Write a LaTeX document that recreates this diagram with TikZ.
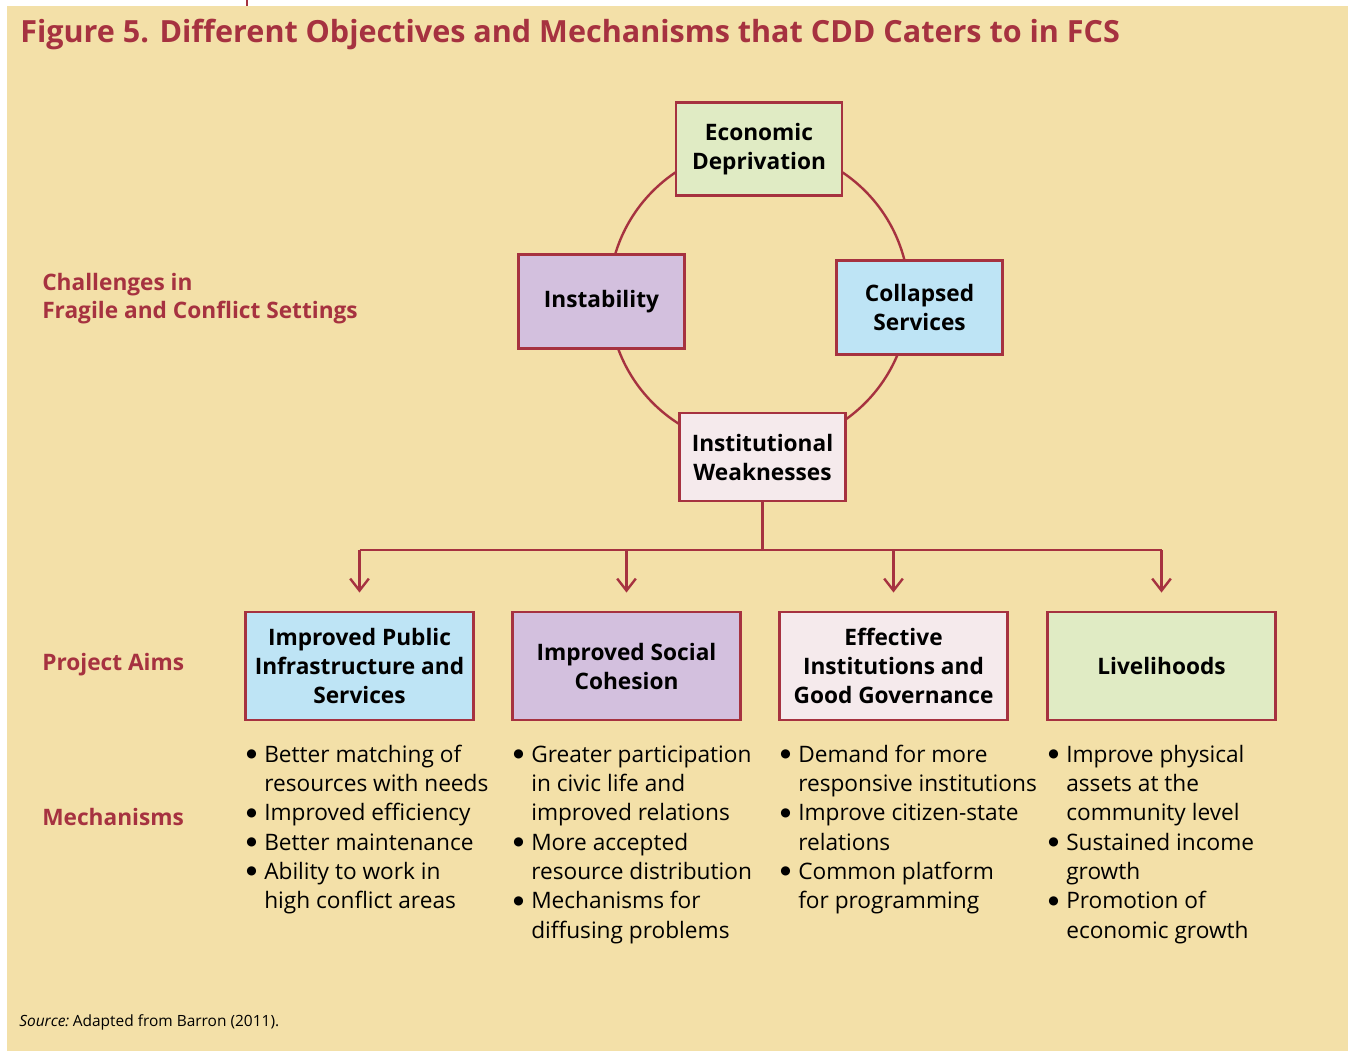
\documentclass[tikz,border=0pt]{standalone}
\usepackage{fontspec}
\setmainfont{Open Sans}
\newfontfamily\dejavu{DejaVu Sans}
\usetikzlibrary{arrows.meta}
\definecolor{bg}{RGB}{243,224,168}
\definecolor{dred}{RGB}{166,50,64}
\definecolor{fgreen}{RGB}{224,235,196}
\definecolor{flav}{RGB}{211,192,222}
\definecolor{fblue}{RGB}{190,228,245}
\definecolor{fpink}{RGB}{245,234,236}
\newcommand{\bul}{\raisebox{3.3pt}{\dejavu\fontsize{9}{9}\selectfont ●}}
\begin{document}
\begin{tikzpicture}[x=0.75pt,y=-0.75pt,
  boxstyle/.style={draw=dred, line width=2.2pt, inner sep=0pt, align=center,
    font=\fontsize{17}{21.75}\selectfont\bfseries},
  topbox/.style={boxstyle, minimum width=124.5pt, minimum height=70pt},
  aimbox/.style={boxstyle, minimum width=171pt, minimum height=81pt},
  sidelabel/.style={anchor=base west, inner sep=0pt, text=dred, align=left,
    font=\fontsize{17}{20.7}\selectfont\bfseries},
  bulletlist/.style={anchor=base west, inner sep=0pt,
    font=\fontsize{17}{22}\selectfont},
  link/.style={draw=dred, line width=1.8pt},
  arr/.style={link, -{Straight Barb[length=9pt,width=14pt,line width=1.8pt]}, shorten >=13.5pt}
]
\useasboundingbox (0,0) rectangle (1348,1051);
\fill[bg] (7,6) rectangle (1348,1051);
\draw[dred, line width=1.5pt] (246.5,0) -- (246.5,6);

% title
\node[anchor=base west, inner sep=0pt, text=dred, font=\fontsize{22.9}{28}\selectfont\bfseries]
  (title) at (20,42.5) {Figure 5. Different Objectives and Mechanisms that CDD Caters to in FCS};

% cycle
\draw[link] (759,297) circle [radius=150];
\node[topbox, fill=fgreen] (econ) at (759,149) {Economic\\Deprivation};
\node[topbox, fill=flav] (instab) at (601.5,301.5) {Instability};
\node[topbox, fill=fblue] (coll) at (919.5,307.5) {Collapsed\\Services};
\node[topbox, fill=fpink, minimum height=66pt] (weak) at (762.5,457) {Institutional\\Weaknesses};

% side labels
\node[sidelabel] (chal) at (42,318.5) {Challenges in\\Fragile and Conflict Settings};
\node[sidelabel] (aims) at (42,670) {Project Aims};
\node[sidelabel] (mech) at (42,825) {Mechanisms};

% aims
\node[aimbox, fill=fblue] (aim1) at (359.5,666) {Improved Public\\Infrastructure and\\Services};
\node[aimbox, fill=flav] (aim2) at (626.5,666) {Improved Social\\Cohesion};
\node[aimbox, fill=fpink] (aim3) at (893.5,666) {Effective\\Institutions and\\Good Governance};
\node[aimbox, fill=fgreen] (aim4) at (1161.5,666) {Livelihoods};

% connectors
\coordinate (hub) at (761,550);
\draw[link] (weak.south) -- (weak.south |- hub);
\draw[link] (aim1.north |- hub) -- (aim4.north |- hub);
\draw[arr] (aim1.north |- hub) -- (aim1.north);
\draw[arr] (aim2.north |- hub) -- (aim2.north);
\draw[arr] (aim3.north |- hub) -- (aim3.north);
\draw[arr] (aim4.north |- hub) -- (aim4.north);

% mechanisms
\node[bulletlist] (mech1) at (246,762) {\begin{tabular}[t]{@{}p{13.5pt}@{}l@{}}
\bul & Better matching of\\ & resources with needs\\
\bul & Improved efficiency\\
\bul & Better maintenance\\
\bul & Ability to work in\\ & high conflict areas
\end{tabular}};
\node[bulletlist] (mech2) at (513,762) {\begin{tabular}[t]{@{}p{13.5pt}@{}l@{}}
\bul & Greater participation\\ & in civic life and\\ & improved relations\\
\bul & More accepted\\ & resource distribution\\
\bul & Mechanisms for\\ & diffusing problems
\end{tabular}};
\node[bulletlist] (mech3) at (780,762) {\begin{tabular}[t]{@{}p{13.5pt}@{}l@{}}
\bul & Demand for more\\ & responsive institutions\\
\bul & Improve citizen-state\\ & relations\\
\bul & Common platform\\ & for programming
\end{tabular}};
\node[bulletlist] (mech4) at (1048,762) {\begin{tabular}[t]{@{}p{13.5pt}@{}l@{}}
\bul & Improve physical\\ & assets at the\\ & community level\\
\bul & Sustained income\\ & growth\\
\bul & Promotion of\\ & economic growth
\end{tabular}};

% source
\node[anchor=base west, inner sep=0pt, font=\fontsize{11.6}{15}\selectfont] (src) at (19,1026)
  {\textit{Source:}\hspace{0.22em}Adapted from Barron (2011).};
\end{tikzpicture}
\end{document}
